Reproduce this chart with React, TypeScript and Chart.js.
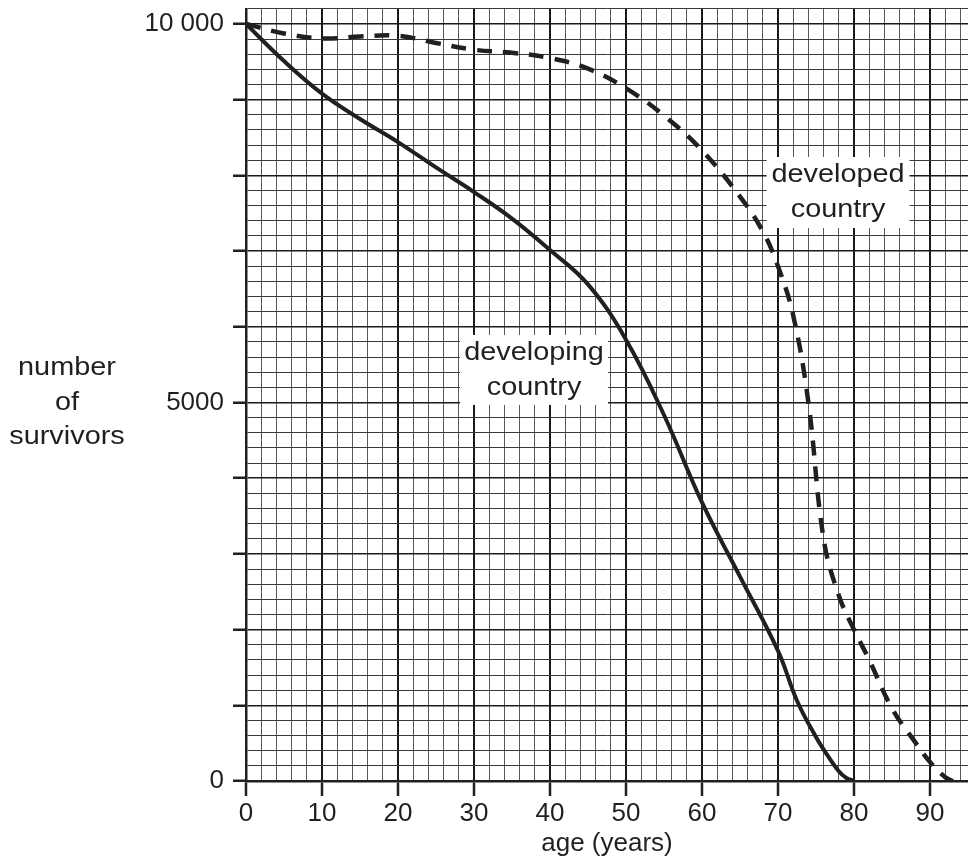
import React, { useEffect, useRef } from "react";
import { Chart, registerables } from "chart.js";

Chart.register(...registerables);

// ---- data ----
const developingAges = [0, 5, 10, 15, 20, 25, 30, 35, 40, 45, 50, 55, 60, 65, 70, 72.5, 75, 76.5, 78, 79, 80];
const developingSurvivors = [10000, 9510, 9080, 8745, 8440, 8105, 7780, 7430, 7015, 6560, 5830, 4835, 3680, 2700, 1720, 1060, 580, 340, 130, 40, 0];

const developedAges = [0, 5, 10, 15, 20, 25, 30, 35, 40, 45, 50, 55, 60, 65, 68, 70, 72, 74, 76, 78, 80, 82, 85, 88, 90, 92, 93];
const developedSurvivors = [10000, 9875, 9810, 9835, 9845, 9750, 9660, 9620, 9550, 9410, 9150, 8790, 8330, 7720, 7260, 6800, 6150, 5000, 3200, 2450, 2000, 1600, 960, 520, 250, 50, 0];

const xTickLabels = [0, 10, 20, 30, 40, 50, 60, 70, 80, 90];
const yTickValues = [0, 5000, 10000];
const yTickTexts = ["0", "5000", "10 000"];
const xAxisTitle = "age (years)";
const yAxisTitleLines = ["number", "of", "survivors"];
const developingLabel = ["developing", "country"];
const developedLabel = ["developed", "country"];

// ---- layout / style ----
const W = 968;
const H = 862;
const INK = "#231f20";
const FONT_FAMILY = "'Liberation Sans', Arial, Helvetica, sans-serif";
const FONT_SIZE = 26;
const labelAnchors = [
  { lines: developingLabel, age: 37.9, value: 5430, w: 148, h: 70 },
  { lines: developedLabel, age: 77.9, value: 7774, w: 143, h: 71 },
];

const textPlugin = {
  id: "textPlugin",
  beforeDatasetsDraw(chart: any) {
    const ctx = chart.ctx as CanvasRenderingContext2D;
    const xs = chart.scales.x;
    const ys = chart.scales.y;
    ctx.save();
    ctx.font = `${FONT_SIZE}px ${FONT_FAMILY}`;
    ctx.textAlign = "center";
    ctx.textBaseline = "middle";
    for (const a of labelAnchors) {
      const cx = xs.getPixelForValue(a.age);
      const cy = ys.getPixelForValue(a.value);
      ctx.fillStyle = "#ffffff";
      ctx.fillRect(cx - a.w / 2, cy - a.h / 2, a.w, a.h);
      ctx.fillStyle = INK;
      a.lines.forEach((t, i) => {
        const ly = cy + (i - (a.lines.length - 1) / 2) * 35;
        ctx.save();
        ctx.translate(cx, ly);
        ctx.scale(1.11, 1);
        ctx.fillText(t, 0, 0);
        ctx.restore();
      });
    }
    // y axis title, horizontal, centred on the 5000 line
    const midY = ys.getPixelForValue(5000);
    yAxisTitleLines.forEach((t, i) => {
      const ly = midY + (i - 1) * 34.5;
      ctx.save();
      ctx.translate(67, ly);
      ctx.scale(1.11, 1);
      ctx.fillText(t, 0, 0);
      ctx.restore();
    });
    ctx.restore();
  },
};

const isMajorX = (v: number) => Math.abs(v / 10 - Math.round(v / 10)) < 1e-6;
const isMajorY = (v: number) => Math.abs(v / 1000 - Math.round(v / 1000)) < 1e-6;

export default function App() {
  const ref = useRef<HTMLCanvasElement | null>(null);

  useEffect(() => {
    if (!ref.current) return;
    const font = { family: FONT_FAMILY, size: FONT_SIZE };
    const chart = new Chart(ref.current, {
      type: "line",
      data: {
        datasets: [
          {
            label: "developing country",
            data: developingAges.map((a, i) => ({ x: a, y: developingSurvivors[i] })),
            borderColor: INK,
            borderWidth: 4,
            pointRadius: 0,
            tension: 0.4,
            fill: false,
          },
          {
            label: "developed country",
            data: developedAges.map((a, i) => ({ x: a, y: developedSurvivors[i] })),
            borderColor: INK,
            borderWidth: 4.5,
            borderDash: [15, 11],
            pointRadius: 0,
            tension: 0.4,
            fill: false,
          },
        ],
      },
      options: {
        responsive: false,
        animation: false,
        devicePixelRatio: 1,
        layout: { padding: { top: 8.86, right: 0, bottom: 0, left: 0 } },
        plugins: { legend: { display: false }, tooltip: { enabled: false } },
        scales: {
          x: {
            type: "linear",
            min: 0,
            max: 95,
            afterFit: (s: any) => {
              s.height = 81;
              s.paddingLeft = 0;
              s.paddingRight = 0;
            },
            ticks: {
              stepSize: 2,
              autoSkip: false,
              includeBounds: false,
              maxRotation: 0,
              minRotation: 0,
              padding: 2,
              color: INK,
              font,
              callback: (v: any) => {
                const n = Math.round(Number(v));
                return xTickLabels.includes(n) && isMajorX(Number(v)) ? String(n) : "";
              },
            },
            grid: {
              color: (c: any) => (c.tick && isMajorX(c.tick.value) ? "#1a1a1a" : "#5a5a5a"),
              lineWidth: (c: any) => (c.tick && isMajorX(c.tick.value) ? 2 : 1),
              tickLength: 15,
              tickColor: (c: any) => (c.tick && isMajorX(c.tick.value) && c.tick.value <= 90 ? INK : "rgba(0,0,0,0)"),
              tickWidth: 2.5,
              drawTicks: true,
            },
            border: { display: true, color: INK, width: 2.5 },
            title: {
              display: true,
              text: xAxisTitle,
              color: INK,
              font,
              padding: { top: 0, bottom: 3 },
            },
          },
          y: {
            type: "linear",
            min: 0,
            max: 10200,
            afterFit: (s: any) => {
              s.width = 246;
              s.paddingTop = 0;
              s.paddingBottom = 0;
            },
            ticks: {
              stepSize: 200,
              autoSkip: false,
              includeBounds: false,
              padding: 9,
              color: INK,
              font,
              callback: (v: any) => {
                const idx = yTickValues.indexOf(Math.round(Number(v)));
                return idx >= 0 ? yTickTexts[idx] : "";
              },
            },
            grid: {
              color: (c: any) => (c.tick && isMajorY(c.tick.value) ? "#1a1a1a" : "#3a3a3a"),
              lineWidth: (c: any) => (c.tick && isMajorY(c.tick.value) ? 1.5 : 1),
              tickLength: 13,
              tickColor: (c: any) =>
                c.tick && isMajorY(c.tick.value) && c.tick.value <= 10000 ? INK : "rgba(0,0,0,0)",
              tickWidth: 2.5,
              drawTicks: true,
            },
            border: { display: true, color: INK, width: 2.5 },
          },
        },
      } as any,
      plugins: [textPlugin],
    });
    return () => chart.destroy();
  }, []);

  return (
    <div style={{ position: "absolute", left: 0, top: 0, width: W, height: H, background: "#fff" }}>
      <canvas ref={ref} width={W} height={H} style={{ width: W, height: H, display: "block" }} />
    </div>
  );
}
